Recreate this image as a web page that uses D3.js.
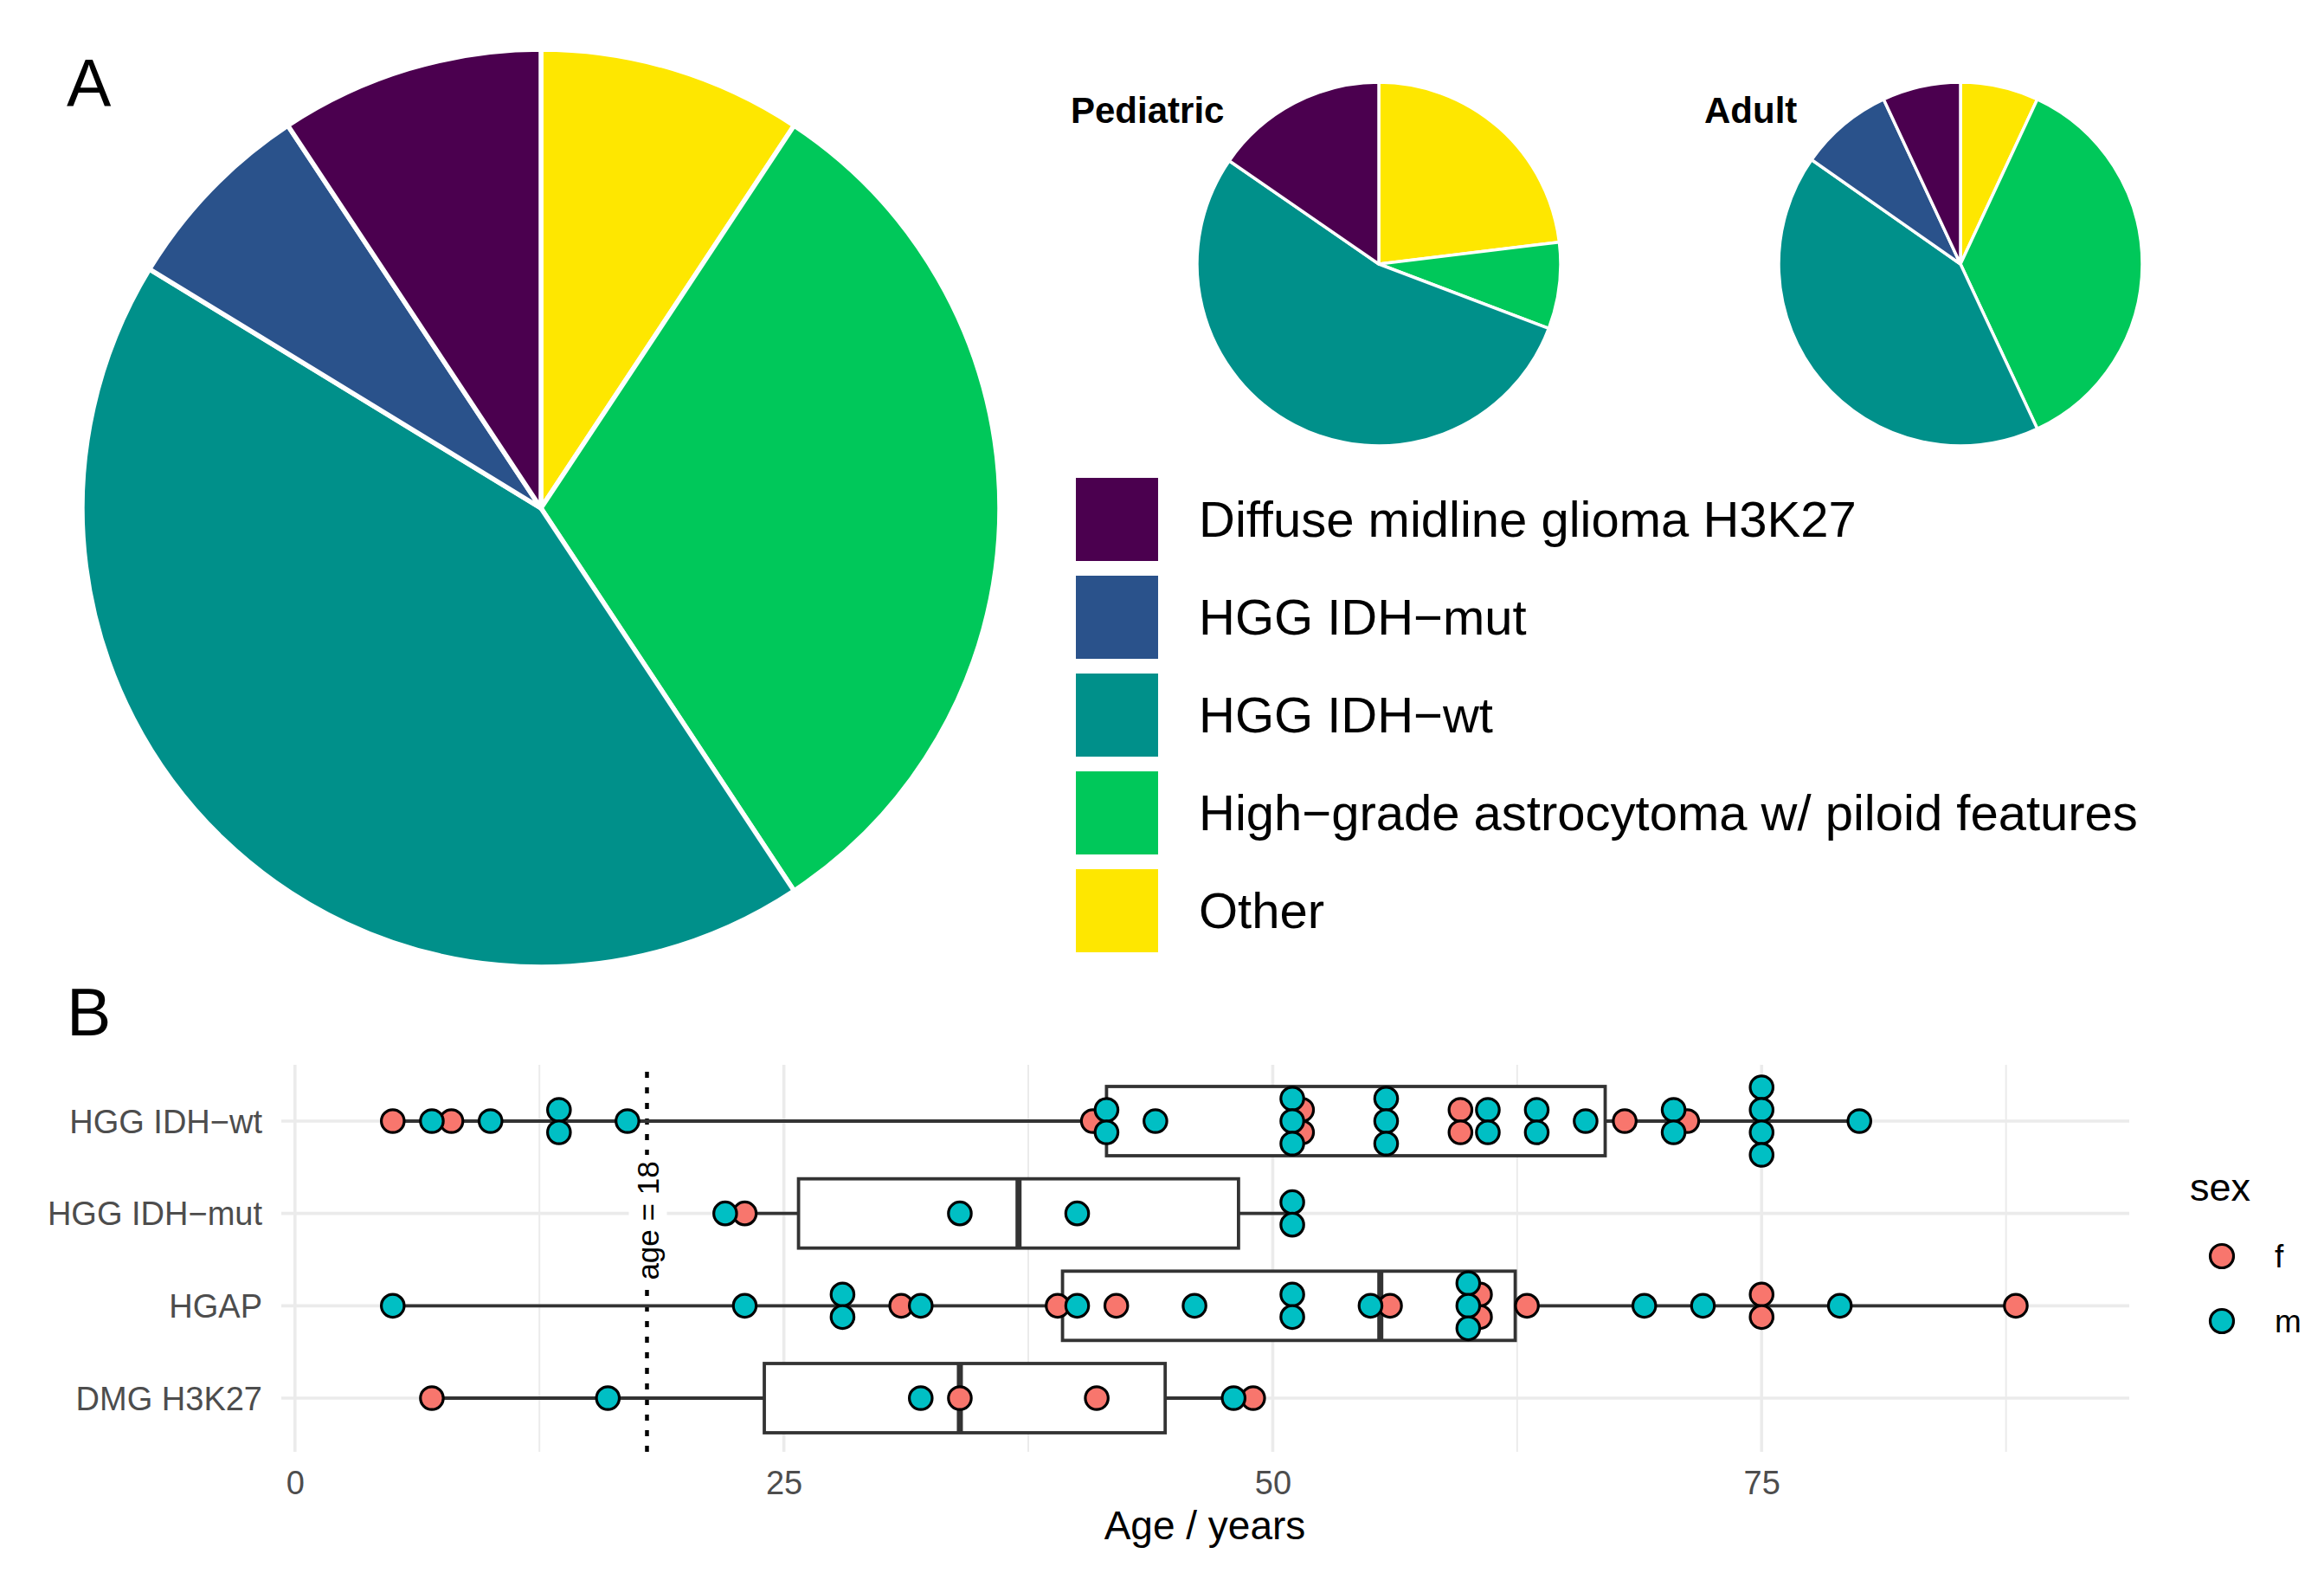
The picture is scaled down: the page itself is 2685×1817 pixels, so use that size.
<!DOCTYPE html>
<html>
<head>
<meta charset="utf-8">
<script src="https://cdn.jsdelivr.net/npm/d3@7"></script>
<style>
html, body { margin: 0; padding: 0; background: #fff; }
svg text { font-family: "Liberation Sans", Arial, Helvetica, sans-serif; }
</style>
</head>
<body>
<svg id="chart" width="2685" height="1817"></svg>
<script>
// ---------- Data ----------
const typeCategories = ["Diffuse midline glioma H3K27", "HGG IDH\u2212mut", "HGG IDH\u2212wt", "High\u2212grade astrocytoma w/ piloid features", "Other"];
const typeColors = ["#4B004F", "#2A528B", "#00908A", "#00C85A", "#FEE700"];
const allCounts = [8, 6, 37, 27, 8];
const pediatricCounts = [2, 0, 7, 1, 3];
const adultCounts = [5, 6, 30, 26, 5];

const boxCategories = ["HGG IDH\u2212wt", "HGG IDH\u2212mut", "HGAP", "DMG H3K27"];
const sexLevels = ["f", "m"];
const sexColors = ["#F8766D", "#00BFC4"];
const xTicks = [0, 25, 50, 75];
const ageCutoff = 18;

// ages per category and sex
const idhwtF = [5, 8, 40.8, 51.5, 51.5, 59.6, 59.6, 68, 71.2];
const idhwtM = [7, 10, 13.5, 13.5, 17, 41.5, 41.5, 44, 51, 51, 51, 55.8, 55.8, 55.8, 61, 61, 63.5, 63.5, 66, 70.5, 70.5, 75, 75, 75, 75, 80];
const idhmutF = [23];
const idhmutM = [22, 34, 40, 51, 51];
const hgapF = [31, 39, 42, 56, 60.6, 60.6, 63, 75, 75, 88];
const hgapM = [5, 23, 28, 28, 32, 40, 46, 51, 51, 55, 60, 60, 60, 69, 72, 79];
const dmgF = [7, 34, 41, 49];
const dmgM = [16, 32, 48];

const agesBySex = {
  "HGG IDH\u2212wt": { f: idhwtF, m: idhwtM },
  "HGG IDH\u2212mut": { f: idhmutF, m: idhmutM },
  "HGAP": { f: hgapF, m: hgapM },
  "DMG H3K27": { f: dmgF, m: dmgM }
};

// ---------- Setup ----------
const svg = d3.select("#chart");
const FONT = "'Liberation Sans', Arial, Helvetica, sans-serif";

svg.append("text").attr("x", 77).attr("y", 123).attr("font-size", 77).attr("fill", "#000").text("A");
svg.append("text").attr("x", 77).attr("y", 1196).attr("font-size", 77).attr("fill", "#000").text("B");

// ---------- Pies ----------
const pieGen = d3.pie().sort(null).value(d => d.value).startAngle(0).endAngle(2 * Math.PI);

function drawPie(counts, cx, cy, r, strokeW) {
  // ggplot stacking order: clockwise from top is the reversed level order
  const data = typeCategories.map((c, i) => ({ cat: c, value: counts[i], color: typeColors[i] })).reverse();
  const arcs = pieGen(data);
  const arcGen = d3.arc().innerRadius(0).outerRadius(r);
  const g = svg.append("g").attr("transform", `translate(${cx},${cy})`);
  g.selectAll("path").data(arcs.filter(a => a.data.value > 0)).join("path")
    .attr("d", arcGen)
    .attr("fill", d => d.data.color)
    .attr("stroke", "#fff")
    .attr("stroke-width", strokeW)
    .attr("stroke-linejoin", "round");
}

drawPie(allCounts, 625, 587, 530, 5.5);
drawPie(pediatricCounts, 1593, 305, 210, 3.5);
drawPie(adultCounts, 2265, 305, 210, 3.5);

svg.append("text").attr("x", 1237).attr("y", 142).attr("font-size", 42).attr("font-weight", "bold").text("Pediatric");
svg.append("text").attr("x", 1969).attr("y", 142).attr("font-size", 42).attr("font-weight", "bold").text("Adult");

// type legend
const legG = svg.append("g");
typeCategories.forEach((c, i) => {
  const y0 = 552 + i * 113;
  legG.append("rect").attr("x", 1243).attr("y", y0).attr("width", 95).attr("height", 96).attr("fill", typeColors[i]);
  legG.append("text").attr("x", 1385).attr("y", y0 + 48).attr("dy", "0.35em").attr("font-size", 58).attr("fill", "#000").text(c);
});

// ---------- Box / dot plot ----------
const x = d3.scaleLinear().domain([-0.7, 93.8]).range([325, 2460]);
const y = d3.scalePoint().domain(boxCategories).range([1295, 1615]);
const panelTop = 1230, panelBottom = 1677;
const bandH = y.step();

const grid = svg.append("g");
const minorTicks = xTicks.map(t => t + 12.5);
grid.selectAll("line.minor").data(minorTicks).join("line")
  .attr("x1", d => x(d)).attr("x2", d => x(d)).attr("y1", panelTop).attr("y2", panelBottom)
  .attr("stroke", "#EBEBEB").attr("stroke-width", 2);
grid.selectAll("line.major").data(xTicks).join("line")
  .attr("x1", d => x(d)).attr("x2", d => x(d)).attr("y1", panelTop).attr("y2", panelBottom)
  .attr("stroke", "#EBEBEB").attr("stroke-width", 3.6);
grid.selectAll("line.hmajor").data(boxCategories).join("line")
  .attr("x1", 325).attr("x2", 2460).attr("y1", d => y(d)).attr("y2", d => y(d))
  .attr("stroke", "#EBEBEB").attr("stroke-width", 3.6);

// axes
const xAxis = d3.axisBottom(x).tickValues(xTicks).tickSize(0).tickPadding(0);
const xAxisG = svg.append("g").attr("transform", `translate(0, ${panelBottom})`).call(xAxis);
xAxisG.select(".domain").remove();
xAxisG.selectAll("text").attr("font-size", 38).attr("fill", "#4D4D4D").attr("font-family", FONT)
  .attr("y", 49).attr("dy", 0);

const yAxis = d3.axisLeft(y).tickSize(0).tickPadding(0);
const yAxisG = svg.append("g").attr("transform", `translate(303, 0)`).call(yAxis);
yAxisG.select(".domain").remove();
yAxisG.selectAll("text").attr("font-size", 38).attr("fill", "#4D4D4D").attr("font-family", FONT)
  .attr("x", 0).attr("dy", "0.35em");

svg.append("text").attr("x", 1392).attr("y", 1778).attr("text-anchor", "middle")
  .attr("font-size", 46).attr("fill", "#000").text("Age / years");

// cutoff line
svg.append("line").attr("x1", x(ageCutoff)).attr("x2", x(ageCutoff))
  .attr("y1", panelTop + 8).attr("y2", panelBottom)
  .attr("stroke", "#000").attr("stroke-width", 4.5).attr("stroke-dasharray", "7,11");

// boxes
const boxG = svg.append("g");
const boxW = 0.75 * bandH;
boxCategories.forEach(cat => {
  const vals = agesBySex[cat].f.concat(agesBySex[cat].m).sort(d3.ascending);
  const q1 = d3.quantile(vals, 0.25), med = d3.quantile(vals, 0.5), q3 = d3.quantile(vals, 0.75);
  const iqr = q3 - q1;
  const lo = d3.min(vals.filter(v => v >= q1 - 1.5 * iqr));
  const hi = d3.max(vals.filter(v => v <= q3 + 1.5 * iqr));
  const cy = y(cat);
  boxG.append("line").attr("x1", x(lo)).attr("x2", x(q1)).attr("y1", cy).attr("y2", cy)
    .attr("stroke", "#333333").attr("stroke-width", 3.8);
  boxG.append("line").attr("x1", x(q3)).attr("x2", x(hi)).attr("y1", cy).attr("y2", cy)
    .attr("stroke", "#333333").attr("stroke-width", 3.8);
  boxG.append("rect").attr("x", x(q1)).attr("y", cy - boxW / 2).attr("width", x(q3) - x(q1)).attr("height", boxW)
    .attr("fill", "#fff").attr("stroke", "#333333").attr("stroke-width", 3.8);
  boxG.append("line").attr("x1", x(med)).attr("x2", x(med)).attr("y1", cy - boxW / 2).attr("y2", cy + boxW / 2)
    .attr("stroke", "#333333").attr("stroke-width", 7);
});

// dots (stacked centered per category / sex / value)
const dotR = 13.2, dotStep = 26;
const dotG = svg.append("g");
sexLevels.forEach((sex, si) => {
  boxCategories.forEach(cat => {
    const groups = d3.group(agesBySex[cat][sex], v => v);
    groups.forEach((arr, v) => {
      const n = arr.length;
      arr.forEach((_, k) => {
        dotG.append("circle")
          .attr("cx", x(v))
          .attr("cy", y(cat) + (k - (n - 1) / 2) * dotStep)
          .attr("r", dotR)
          .attr("fill", sexColors[si])
          .attr("stroke", "#000").attr("stroke-width", 3.2);
      });
    });
  });
});

// age label with white background
const labG = svg.append("g").attr("transform", `translate(${x(ageCutoff) + 1}, 1410) rotate(-90)`);
labG.append("rect").attr("x", -76).attr("y", -22).attr("width", 152).attr("height", 44).attr("fill", "#fff");
labG.append("text").attr("x", 0).attr("y", 0).attr("dy", "0.35em").attr("text-anchor", "middle")
  .attr("font-size", 35).attr("fill", "#000").text("age = " + ageCutoff);

// sex legend
svg.append("text").attr("x", 2530).attr("y", 1387).attr("font-size", 45).attr("fill", "#000").text("sex");
sexLevels.forEach((s, i) => {
  const cy = 1451 + i * 75;
  svg.append("circle").attr("cx", 2567).attr("cy", cy).attr("r", 13.5)
    .attr("fill", sexColors[i]).attr("stroke", "#000").attr("stroke-width", 3.2);
  svg.append("text").attr("x", 2628).attr("y", cy).attr("dy", "0.35em").attr("font-size", 37).attr("fill", "#000").text(s);
});
</script>
</body>
</html>
